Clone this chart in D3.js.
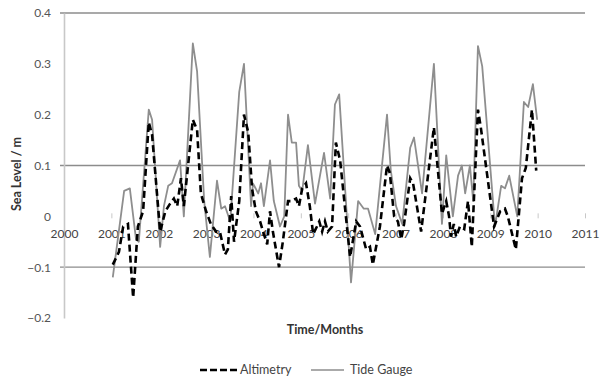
<!DOCTYPE html>
<html><head><meta charset="utf-8">
<script src="https://cdn.jsdelivr.net/npm/d3@7"></script>
<style>body{margin:0;background:#fff}svg{display:block}text{font-family:Lato,"Open Sans",sans-serif}</style>
</head><body><svg id="c" width="606" height="379"></svg>
<script>
const years = [2000,2001,2002,2003,2004,2005,2006,2007,2008,2009,2010,2011];
const yTicks = [-0.2,-0.1,0,0.1,0.2,0.3,0.4];
const gridValues = [0.4,0.1,-0.1];

const tideTime = [2001.03,2001.27,2001.39,2001.52,2001.58,2001.79,2001.86,2002.03,2002.11,2002.20,2002.28,2002.45,2002.53,2002.72,2002.81,2002.96,2003.08,2003.23,2003.32,2003.40,2003.51,2003.70,2003.80,2003.95,2003.99,2004.10,2004.16,2004.22,2004.35,2004.43,2004.56,2004.65,2004.73,2004.81,2004.90,2004.96,2005.03,2005.15,2005.30,2005.49,2005.62,2005.72,2005.81,2006.06,2006.21,2006.33,2006.42,2006.57,2006.82,2006.90,2007.01,2007.14,2007.31,2007.39,2007.56,2007.81,2007.98,2008.07,2008.21,2008.32,2008.40,2008.47,2008.57,2008.64,2008.74,2008.83,2009.10,2009.23,2009.31,2009.40,2009.57,2009.71,2009.80,2009.90,2009.99];
const tideLevel = [-0.12,0.05,0.055,-0.045,-0.05,0.21,0.19,-0.06,0.02,0.06,0.065,0.11,0.0,0.34,0.285,0.03,-0.08,0.07,0.015,0.02,-0.01,0.245,0.30,0.02,0.065,0.045,0.065,0.02,0.11,0.03,-0.02,0.0,0.2,0.145,0.145,0.06,0.05,0.14,0.025,0.125,0.035,0.22,0.24,-0.13,0.03,0.015,0.015,-0.035,0.2,0.09,0.02,-0.015,0.135,0.155,0.045,0.3,-0.015,0.12,0.0,0.08,0.1,0.045,0.1,0.03,0.335,0.295,-0.02,0.06,0.055,0.08,0.0,0.225,0.215,0.26,0.19];

const altTime = [2001.03,2001.16,2001.25,2001.35,2001.46,2001.56,2001.67,2001.79,2001.86,2002.03,2002.14,2002.24,2002.32,2002.39,2002.47,2002.53,2002.72,2002.81,2002.89,2003.00,2003.10,2003.21,2003.29,2003.40,2003.46,2003.53,2003.59,2003.70,2003.80,2003.89,2003.97,2004.05,2004.14,2004.22,2004.29,2004.35,2004.41,2004.54,2004.62,2004.73,2004.81,2004.90,2004.96,2005.03,2005.11,2005.19,2005.26,2005.34,2005.39,2005.45,2005.51,2005.57,2005.66,2005.74,2005.83,2006.04,2006.17,2006.25,2006.38,2006.46,2006.52,2006.67,2006.82,2006.88,2006.97,2007.05,2007.12,2007.18,2007.31,2007.37,2007.54,2007.81,2007.98,2008.07,2008.13,2008.17,2008.23,2008.28,2008.36,2008.45,2008.53,2008.61,2008.74,2008.80,2009.08,2009.21,2009.31,2009.37,2009.54,2009.67,2009.75,2009.88,2009.97];
const altLevel = [-0.095,-0.07,-0.02,-0.015,-0.16,-0.02,0.01,0.185,0.16,-0.03,0.01,0.025,0.035,0.02,0.075,0.02,0.19,0.17,0.045,0.01,-0.015,-0.03,-0.03,-0.075,-0.065,0.04,-0.05,0.03,0.2,0.165,0.055,0.01,-0.01,-0.035,-0.055,0.01,-0.03,-0.1,-0.05,0.03,0.03,0.035,0.02,0.055,0.065,0.02,-0.035,-0.02,-0.01,-0.03,-0.01,-0.03,-0.02,0.145,0.11,-0.08,-0.01,-0.02,-0.065,-0.06,-0.095,-0.02,0.1,0.085,0.0,-0.01,-0.045,-0.015,0.075,0.065,-0.03,0.175,0.005,0.03,0.0,-0.04,-0.015,-0.04,-0.02,-0.025,0.03,-0.06,0.21,0.175,-0.02,0.01,0.015,0.0,-0.065,0.075,0.095,0.21,0.09];

const svg = d3.select("#c");
const x = d3.scaleLinear().domain([2000,2011]).range([64,585]);
const y = d3.scaleLinear().domain([-0.2,0.4]).range([318,13]);

svg.append("g").selectAll("line").data(gridValues).join("line")
  .attr("x1",60).attr("x2",585).attr("y1",d=>y(d)).attr("y2",d=>y(d))
  .attr("stroke","#8c8c8c").attr("stroke-width",1.3);

const yAxis = d3.axisLeft(y).tickValues(yTicks).tickSize(0).tickPadding(13)
  .tickFormat(d=> d===0 ? "0" : d3.format(".1f")(d));
const gy = svg.append("g").attr("transform",`translate(${x(2000)},0)`).call(yAxis);
gy.select(".domain").attr("stroke","#c8c8c8").attr("stroke-width",1.6);
gy.selectAll("text").attr("fill","#555").style("font-size","12px");

const xAxis = d3.axisBottom(x).tickValues(years).tickSize(0).tickPadding(13).tickFormat(d3.format("d"));
const gx = svg.append("g").attr("transform",`translate(0,${y(0)})`).call(xAxis);
gx.select(".domain").remove();
gx.selectAll("text").attr("fill","#444").style("font-size","12px");
gx.selectAll(".tick").append("line").attr("y1",-3).attr("y2",2).attr("stroke","#c8c8c8").attr("stroke-width",1);

const line = d3.line().x(d=>x(d[0])).y(d=>y(d[1]));
svg.append("path").datum(d3.zip(tideTime,tideLevel)).attr("d",line)
  .attr("fill","none").attr("stroke","#8e8e8e").attr("stroke-width",1.8).attr("stroke-linejoin","round");
svg.append("path").datum(d3.zip(altTime,altLevel)).attr("d",line)
  .attr("fill","none").attr("stroke","#000").attr("stroke-width",2.6).attr("stroke-dasharray","7,4");

svg.append("text").attr("transform","translate(21,174) rotate(-90)").attr("text-anchor","middle")
  .style("font-size","12.5px").style("font-weight","bold").attr("fill","#333").text("Sea Level / m");
svg.append("text").attr("x",325).attr("y",334).attr("text-anchor","middle")
  .style("font-size","12.5px").style("font-weight","bold").attr("fill","#333").text("Time/Months");

const lg = svg.append("g");
lg.append("line").attr("x1",200).attr("x2",237).attr("y1",370).attr("y2",370)
  .attr("stroke","#000").attr("stroke-width",2.6).attr("stroke-dasharray","7,3");
lg.append("text").attr("x",240).attr("y",374).style("font-size","12.5px").attr("fill","#444").text("Altimetry");
lg.append("line").attr("x1",311).attr("x2",344).attr("y1",370).attr("y2",370)
  .attr("stroke","#8e8e8e").attr("stroke-width",1.5);
lg.append("text").attr("x",350).attr("y",374).style("font-size","12.5px").attr("fill","#444").text("Tide Gauge");
</script></body></html>
